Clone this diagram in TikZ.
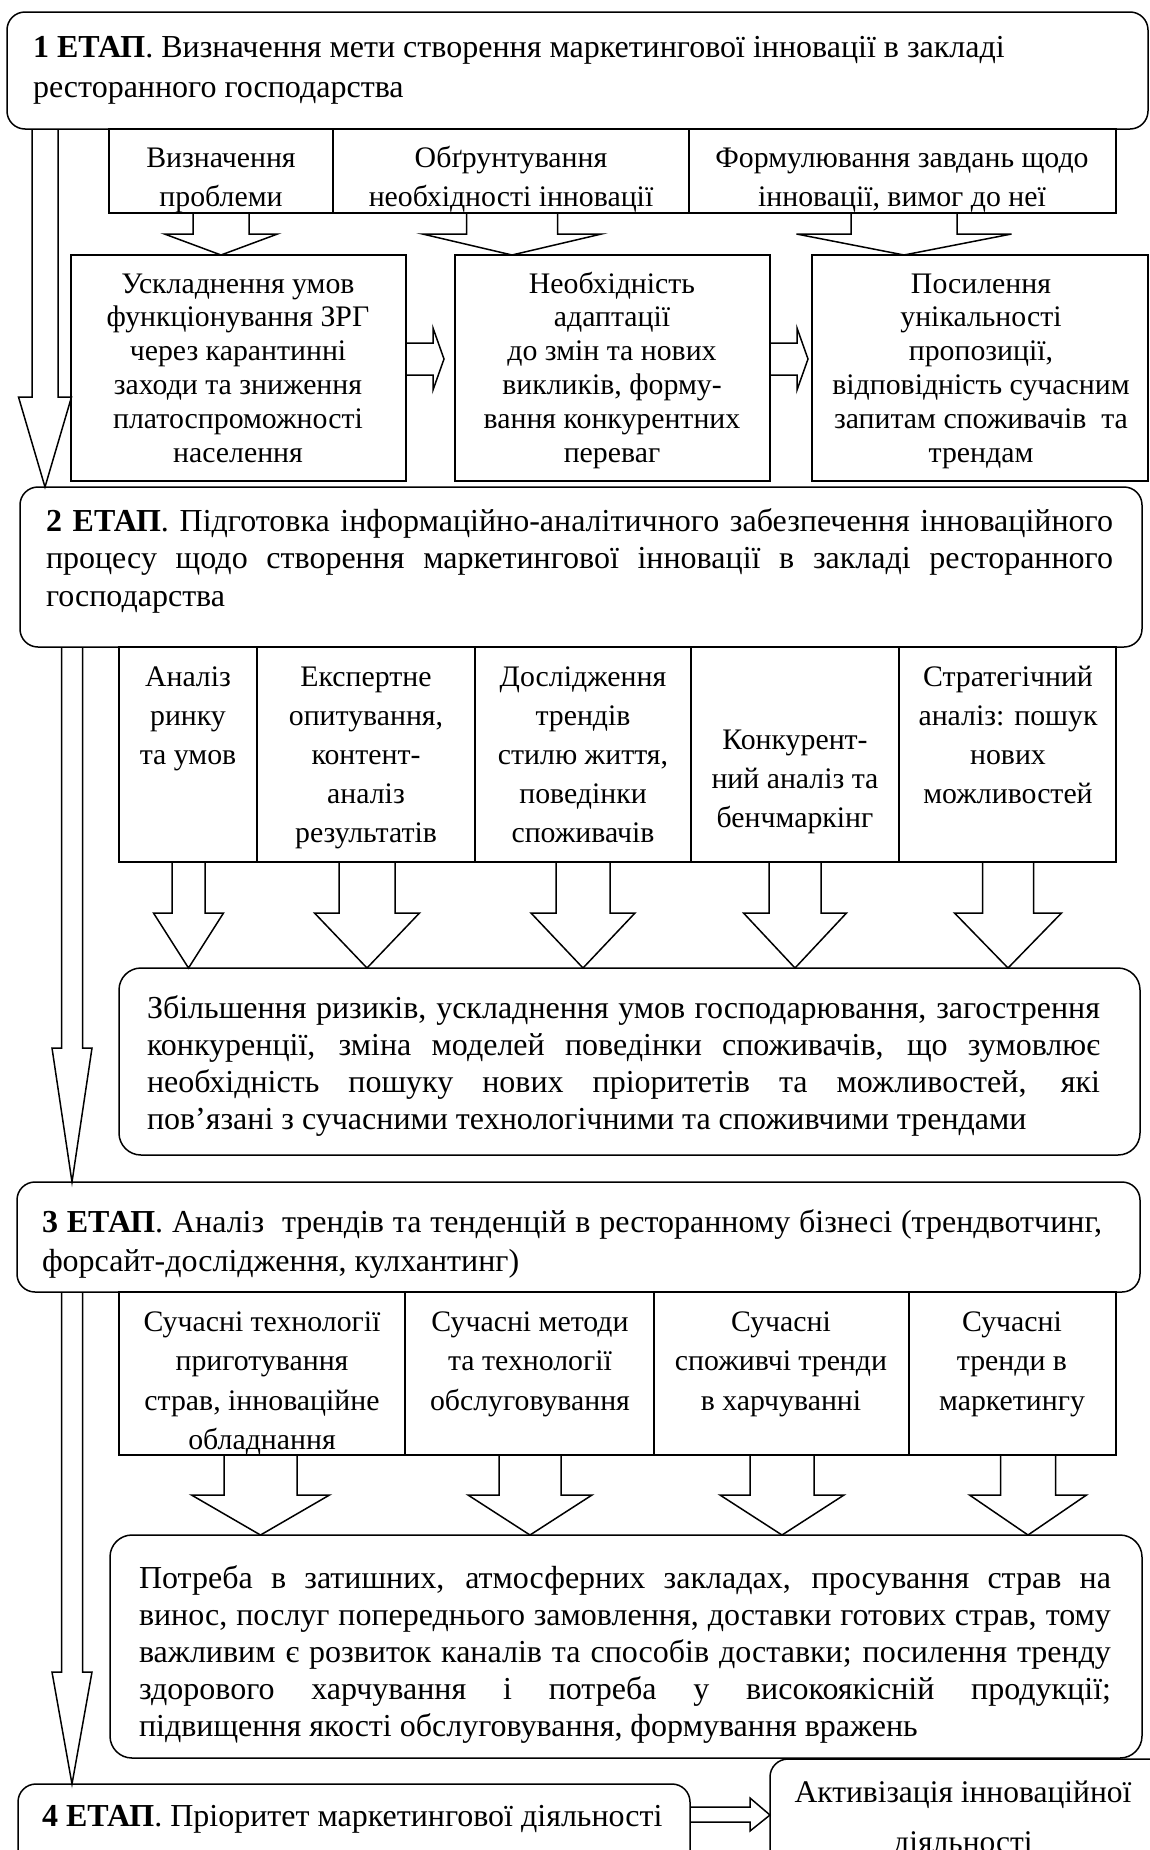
\documentclass[tikz,border=0pt]{standalone}
\usepackage{fontspec}
\setmainfont{Liberation Serif}
\newcommand\fsz[2]{\fontsize{#1pt}{#2pt}\selectfont}
\newcommand\cellsize{29.8}
\newcommand\stagesize{32}
% box node: name, x1, y1, x2, y2, style
\newcommand\boxnode[6]{\node[#6, anchor=north west, minimum width={(#4-#2)*1pt}, minimum height={(#5-#3)*1pt}] (#1) at (#2,#3) {};}
% centred cell text: name, cx, first baseline, width, baselineskip, text
\newcommand\ctx[6]{\node[anchor=base] (#1) at (#2,#3) {\parbox[t]{#4pt}{\fsz{\cellsize}{#5}\centering #6}};}
% justified stage text: name, left x, first baseline, width, baselineskip, text
\newcommand\jtx[6]{\node[anchor=base west] (#1) at (#2,#3) {\parbox[t]{#4pt}{\fsz{\stagesize}{#5}\tolerance=10000 \hyphenpenalty=10000 \exhyphenpenalty=10000 #6}};}
% down block arrow: cx, ytop, shaft half, head half, yhead, ytip
\newcommand\darrow[6]{\draw[arr] ({#1-#3},#2) -- ({#1-#3},#5) -- ({#1-#4},#5) -- (#1,#6) -- ({#1+#4},#5) -- ({#1+#3},#5) -- ({#1+#3},#2);}
\begin{document}
\begin{tikzpicture}[x=1pt,y=-1pt,
  every node/.style={inner sep=0pt, outer sep=0pt},
  stg/.style={draw, line width=1.5pt, rounded corners=18pt},
  cons/.style={draw, line width=1.5pt, rounded corners=22pt},
  cell/.style={draw, line width=1.5pt},
  arr/.style={line width=1.5pt, line join=miter}]
\useasboundingbox (0,0) rectangle (1150,1850);

% ---------- STAGE 1 ----------
\boxnode{s1}{7}{12}{1148}{129}{stg}
\node[anchor=base west] (s1t) at (33,57) {\parbox[t]{1100pt}{\fsz{\stagesize}{40}\raggedright \textbf{1 ЕТАП}. Визначення мети створення маркетингової інновації в закладі\\ресторанного господарства}};

\boxnode{a1}{109}{129}{333}{213}{cell}
\boxnode{a2}{333}{129}{689}{213}{cell}
\boxnode{a3}{689}{129}{1116}{213}{cell}
\ctx{a1t}{221}{167}{220}{39}{Визначення\\проблеми}
\ctx{a2t}{511}{167}{350}{39}{Обґрунтування\\необхідності інновації}
\ctx{a3t}{902}{167}{420}{39}{Формулювання завдань щодо\\інновації, вимог до неї}

\darrow{221}{213}{28}{56.5}{234}{255}
\darrow{512}{213}{45.5}{89.5}{234}{255}
\darrow{904}{213}{53}{107.5}{234}{255}

\boxnode{m1}{71}{255}{406}{481}{cell}
\boxnode{m2}{455}{255}{770}{481}{cell}
\boxnode{m3}{812}{255}{1148}{481}{cell}
\ctx{m1t}{238}{293}{330}{33.8}{Ускладнення умов\\функціонування ЗРГ\\через карантинні\\заходи та зниження\\платоспроможності\\населення}
\ctx{m2t}{612}{293}{310}{33.8}{Необхідність\\адаптації\\до змін та нових\\викликів, форму-\\вання конкурентних\\переваг}
\ctx{m3t}{981}{293}{335}{33.8}{Посилення\\унікальності\\пропозиції,\\відповідність сучасним\\запитам споживачів\ \ та\\трендам}

\draw[arr] (m1.east |- 0,343) -- (433,343) -- (433,328) -- (444,359) -- (433,390) -- (433,375) -- (m1.east |- 0,375);
\draw[arr] (m2.east |- 0,343) -- (797,343) -- (797,328) -- (808,359) -- (797,390) -- (797,375) -- (m2.east |- 0,375);

% left arrow 1
\darrow{45}{129}{13}{26.5}{397}{487}

% ---------- STAGE 2 ----------
\boxnode{s2}{20}{487}{1142}{647}{stg}
\jtx{s2t}{46}{531}{1067}{37.5}{\textbf{2 ЕТАП}. Підготовка інформаційно-аналітичного забезпечення інноваційного\linebreak процесу щодо створення маркетингової інновації в закладі ресторанного\linebreak господарства}

\boxnode{b1}{119}{647}{257}{862}{cell}
\boxnode{b2}{257}{647}{475}{862}{cell}
\boxnode{b3}{475}{647}{691}{862}{cell}
\boxnode{b4}{691}{647}{899}{862}{cell}
\boxnode{b5}{899}{647}{1116}{862}{cell}
\ctx{b1t}{188}{686}{135}{39}{Аналіз\\ринку\\та умов}
\ctx{b2t}{366}{686}{215}{39}{Експертне\\опитування,\\контент-\\аналіз\\результатів}
\ctx{b3t}{583}{686}{215}{39}{Дослідження\\трендів\\стилю життя,\\поведінки\\споживачів}
\ctx{b4t}{795}{749}{205}{39}{Конкурент-\\ний аналіз та\\бенчмаркінг}
\ctx{b5t}{1008}{686}{215}{39}{Стратегічний\\аналіз: пошук\\нових\\можливостей}

\darrow{188.5}{862}{16.5}{35}{913}{968}
\darrow{367}{862}{28}{52.5}{913}{968}
\darrow{583}{862}{27}{52}{913}{968}
\darrow{795}{862}{26}{51.5}{913}{968}
\darrow{1008}{862}{25.5}{53.5}{913}{968}

\boxnode{k2}{119}{968}{1140}{1155}{cons}
\jtx{k2t}{147}{1018}{953}{37.2}{Збільшення ризиків, ускладнення умов господарювання, загострення\linebreak конкуренції, зміна моделей поведінки споживачів, що зумовлює\linebreak необхідність пошуку нових пріоритетів та можливостей, які\linebreak пов’язані з сучасними технологічними та споживчими трендами}

% left arrow 2
\darrow{72}{647}{10.5}{20}{1048}{1182}

% ---------- STAGE 3 ----------
\boxnode{s3}{17}{1182}{1140}{1292}{stg}
\jtx{s3t}{42}{1232}{1060}{39}{\textbf{3 ЕТАП}. Аналіз\ \ трендів та тенденцій в ресторанному бізнесі (трендвотчинг,\linebreak форсайт-дослідження, кулхантинг)}

\boxnode{c1}{119}{1292}{405}{1455}{cell}
\boxnode{c2}{405}{1292}{654}{1455}{cell}
\boxnode{c3}{654}{1292}{909}{1455}{cell}
\boxnode{c4}{909}{1292}{1116}{1455}{cell}
\ctx{c1t}{262}{1331}{280}{39.5}{Сучасні технології\\приготування\\страв, інноваційне\\обладнання}
\ctx{c2t}{530}{1331}{245}{39.5}{Сучасні методи\\та технології\\обслуговування}
\ctx{c3t}{781}{1331}{250}{39.5}{Сучасні\\споживчі тренди\\в харчуванні}
\ctx{c4t}{1012}{1331}{205}{39.5}{Сучасні\\тренди в\\маркетингу}

\darrow{260.5}{1455}{36.5}{69}{1495}{1535}
\darrow{530}{1455}{31}{62}{1495}{1535}
\darrow{782}{1455}{32}{62}{1495}{1535}
\darrow{1028}{1455}{27.5}{58.5}{1495}{1535}

\boxnode{k3}{110}{1535}{1142}{1758}{cons}
\jtx{k3t}{139}{1588}{972}{37}{Потреба в затишних, атмосферних закладах, просування страв на\linebreak винос, послуг попереднього замовлення, доставки готових страв, тому\linebreak важливим є розвиток каналів та способів доставки; посилення тренду\linebreak здорового харчування і потреба у високоякісній продукції;\linebreak підвищення якості обслуговування, формування вражень}

% left arrow 3
\darrow{72}{1292}{10.5}{20}{1672}{1784}

% ---------- STAGE 4 ----------
\boxnode{s4}{18}{1784}{690}{1880}{stg}
\node[anchor=base west] (s4t) at (42,1826) {\fsz{\stagesize}{38}\textbf{4 ЕТАП}. Пріоритет маркетингової діяльності};
\boxnode{act}{770}{1759}{1170}{1880}{stg}
\node[anchor=base] (actt) at (963,1802) {\parbox[t]{380pt}{\fsz{31.5}{50}\centering Активізація інноваційної\\діяльності}};

\draw[arr] (s4.east |- 0,1807) -- (750,1807) -- (750,1798) -- (act.west |- 0,1815) -- (750,1831) -- (750,1822) -- (s4.east |- 0,1822);
\end{tikzpicture}
\end{document}
